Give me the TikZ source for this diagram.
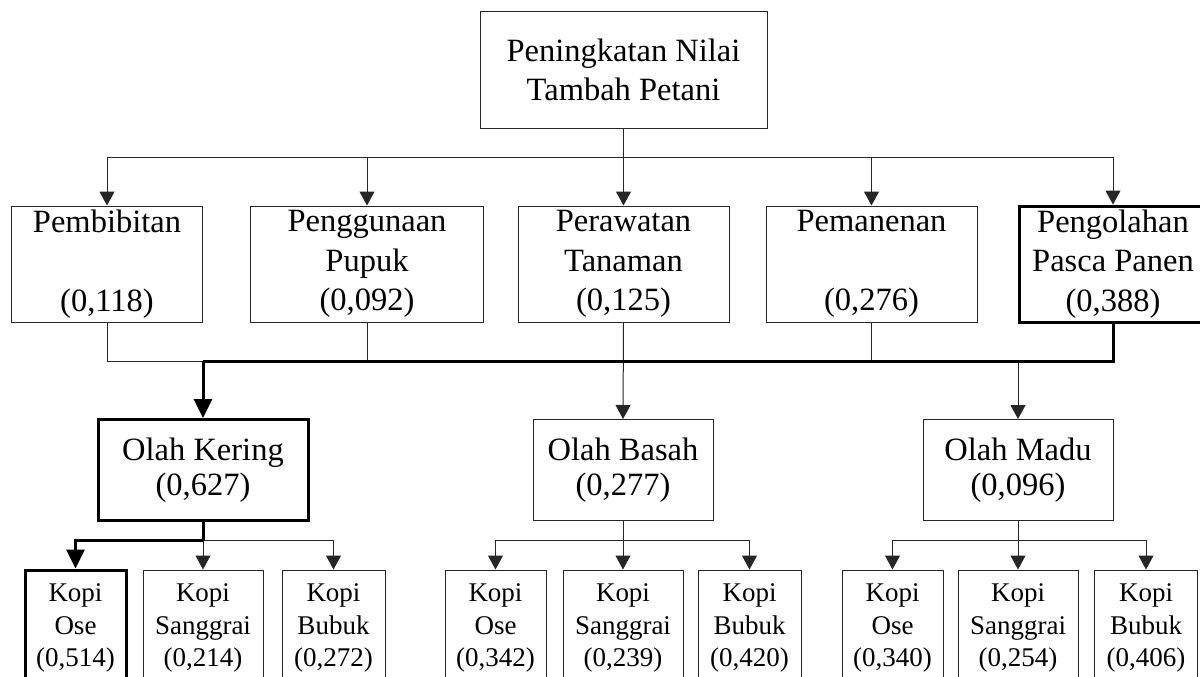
\documentclass[tikz,border=0pt]{standalone}
\usepackage{fontspec}
\setmainfont{Liberation Serif}
\usetikzlibrary{arrows.meta}
\tikzset{
  box/.style={draw=black!85, line width=1pt, inner sep=0pt, align=center, anchor=center},
  bigbox/.style={box, font=\fontsize{32.5}{39.5}\selectfont},
  smallbox/.style={box, font=\fontsize{27}{32.5}\selectfont, minimum height=116pt},
  lv2/.style={bigbox, minimum height=116pt},
  lv3/.style={bigbox, font=\fontsize{32.5}{35}\selectfont, minimum height=101pt},
  hl/.style={line width=3pt, draw=black},
  conn/.style={line width=1pt, draw=black!85},
  thk/.style={line width=3pt, draw=black},
  arr/.style={conn, -{Triangle[width=15pt,length=14pt]}},
  tarr/.style={thk, -{Triangle[width=18pt,length=19pt]}},
}
\begin{document}
\begin{tikzpicture}[x=1pt,y=-1pt]
\useasboundingbox (0,0) rectangle (1200,677);
\clip (0,0) rectangle (1200,677);
% top
\node[bigbox, minimum width=287pt, minimum height=116pt] (top) at (623.5,70) {Peningkatan Nilai\\Tambah Petani};
% level 2
\node[lv2, minimum width=191pt] (p1) at (107,264) {Pembibitan\\\mbox{}\\(0,118)};
\node[lv2, minimum width=233pt] (p2) at (367,264) {Penggunaan\\Pupuk\\(0,092)};
\node[lv2, minimum width=211pt] (p3) at (623.5,264) {Perawatan\\Tanaman\\(0,125)};
\node[lv2, minimum width=211pt] (p4) at (871.5,264) {Pemanenan\\\mbox{}\\(0,276)};
\node[lv2, minimum width=188pt, hl] (p5) at (1113,264) {Pengolahan\\Pasca Panen\\(0,388)};
% level 3
\node[lv3, minimum width=210pt, hl] (ok) at (203,470) {Olah Kering\\(0,627)};
\node[lv3, minimum width=180pt] (ob) at (623,470) {Olah Basah\\(0,277)};
\node[lv3, minimum width=190pt] (om) at (1018,470) {Olah Madu\\(0,096)};
% level 4
\node[smallbox, minimum width=101pt, hl] (k1) at (75.5,628) {Kopi\\Ose\\(0,514)};
\node[smallbox, minimum width=120pt] (k2) at (203,628) {Kopi\\Sanggrai\\(0,214)};
\node[smallbox, minimum width=103pt] (k3) at (333.5,628) {Kopi\\Bubuk\\(0,272)};
\node[smallbox, minimum width=101pt] (k4) at (495.5,628) {Kopi\\Ose\\(0,342)};
\node[smallbox, minimum width=120pt] (k5) at (623,628) {Kopi\\Sanggrai\\(0,239)};
\node[smallbox, minimum width=103pt] (k6) at (749.5,628) {Kopi\\Bubuk\\(0,420)};
\node[smallbox, minimum width=101pt] (k7) at (892.5,628) {Kopi\\Ose\\(0,340)};
\node[smallbox, minimum width=120pt] (k8) at (1018,628) {Kopi\\Sanggrai\\(0,254)};
\node[smallbox, minimum width=103pt] (k9) at (1146,628) {Kopi\\Bubuk\\(0,406)};
% connectors top -> level 2
\coordinate (b1) at (623.5,157);
\draw[conn] (top.south) -- (b1);
\foreach \n in {p1,p2,p3,p4,p5} \draw[arr] (b1) -| (\n.north);
% level 2 -> level 3
\coordinate (b2) at (203,361);
\draw[conn] (p1.south) |- (b2);
\draw[conn] (p2.south) -- (p2.south |- b2);
\draw[conn] (p4.south) -- (p4.south |- b2);
\draw[arr] (p3.south) -- (ob.north);
\draw[arr] (om.north |- b2) -- (om.north);
\draw[thk] (p5.south) |- (b2);
\draw[tarr] (b2) -- (ok.north);
% level 3 -> level 4
\coordinate (c1) at (203,540);
\coordinate (c2) at (623,540);
\coordinate (c3) at (1018,540);
\draw[arr] (c1) -- (k2.north);
\draw[arr] (c1) -| (k3.north);
\draw[thk] (ok.south) -- (c1);
\draw[tarr] (c1) -| (k1.north);
\draw[conn] (ob.south) -- (c2);
\foreach \n in {k4,k5,k6} \draw[arr] (c2) -| (\n.north);
\draw[conn] (om.south) -- (c3);
\foreach \n in {k7,k8,k9} \draw[arr] (c3) -| (\n.north);
\end{tikzpicture}
\end{document}
